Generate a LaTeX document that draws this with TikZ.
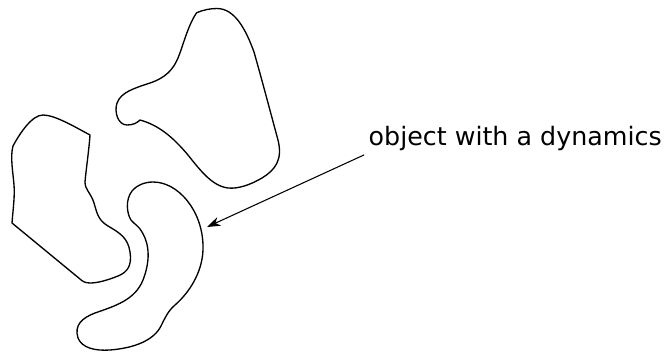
\documentclass[tikz,border=0pt]{standalone}
\usepackage{amsmath}
\usepackage{fontspec}
\setmainfont{DejaVu Sans}
\usepackage{tikz}
\usetikzlibrary{arrows.meta}

\begin{document}
\begin{tikzpicture}[x=0.75pt,y=0.75pt,yscale=-1,xscale=1,line width=1pt,
  blob/.style={draw,line join=round},
  pointer/.style={-{Stealth[length=10pt,width=7pt,inset=3pt]},line width=0.8pt}]
\useasboundingbox (0,0) rectangle (667,358);

%Shape: Polygon Curved, upper body
\draw [blob] (196.7,12.7) .. controls (203,10) and (210,8.5) .. (217,8.5) .. controls (235,8.5) and (246,30) .. (254,52) .. controls (262,80) and (272,118) .. (278,140) .. controls (283,160) and (275,170) .. (262,178) .. controls (250,185) and (238,189) .. (228,188) .. controls (212,186) and (200,170) .. (188,155) .. controls (172,136) and (158,125) .. (140,120) .. controls (137,123) and (133,125) .. (127,125) .. controls (118,125) and (114,112) .. (117,103) .. controls (121,92) and (135,88) .. (150,83) .. controls (165,78) and (173,70) .. (178,58) .. controls (183,46) and (188,25) .. (196.7,12.7) -- cycle ;
%Shape: Polygon Curved, left body
\draw [blob] (90,135) .. controls (89,150) and (86,170) .. (85,182) .. controls (85,190) and (91,193) .. (94,203) .. controls (97,213) and (98,220) .. (108,226) .. controls (120,233) and (128,238) .. (130,252) .. controls (132,265) and (128,272) .. (118,276) .. controls (108,280) and (98,283) .. (90,283) .. controls (85,283) and (82,281) .. (80,279) -- (12,223) .. controls (13,210) and (15,195) .. (14,185) .. controls (13,172) and (10,157) .. (13,146) .. controls (20,133) and (32,115) .. (43,115) .. controls (55,115) and (75,127) .. (90,135) -- cycle ;
%Shape: Polygon Curved, bent body
\draw [blob] (153,182) .. controls (178,182) and (202,210) .. (203,245) .. controls (204,270) and (190,292) .. (175,305) .. controls (168,311) and (165,318) .. (161,326) .. controls (154,340) and (135,348) .. (110,350) .. controls (95,351) and (82,348) .. (78,338) .. controls (74,325) and (82,318) .. (95,313) .. controls (115,306) and (135,300) .. (143,280) .. controls (150,262) and (150,245) .. (142,232) .. controls (139,226) and (134,224) .. (131,220) .. controls (127,214) and (125,200) .. (132,191) .. controls (137,185) and (145,182) .. (153,182) -- cycle ;

% Text Node
\node (dyn) [anchor=base west,inner sep=3pt,font=\fontsize{19}{23}\selectfont] at (364,145) {object with a dynamics};
\coordinate (hit) at (207,227);
%Straight Lines
\draw [pointer] (dyn.south west) -- (hit) ;
\end{tikzpicture}
\end{document}
